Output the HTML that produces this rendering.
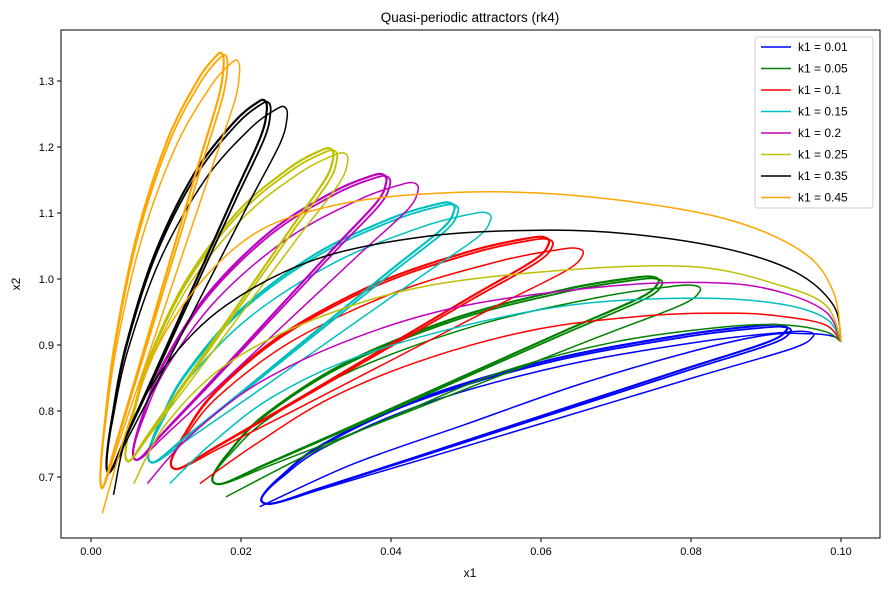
<!DOCTYPE html>
<html><head><meta charset="utf-8"><style>
body{margin:0;background:#fff;font-family:"Liberation Sans",sans-serif;}
svg text{font-family:"Liberation Sans",sans-serif;}
</style></head><body>
<svg id="chart" width="889" height="590" xmlns="http://www.w3.org/2000/svg">
<rect width="889" height="590" fill="#fff"/>
<text x="470" y="22" font-size="13.5" text-anchor="middle">Quasi-periodic attractors (rk4)</text>
<g id="plot"></g>
<rect x="61" y="30" width="819" height="508" fill="none" stroke="#000" stroke-width="1"/>
<g id="axes"></g>
<text x="470" y="577" font-size="12" text-anchor="middle">x1</text>
<text x="20" y="284" font-size="12" text-anchor="middle" transform="rotate(-90 20 284)">x2</text>
<g id="legend"></g>
</svg>
<script>
const labels=["k1 = 0.01","k1 = 0.05","k1 = 0.1","k1 = 0.15","k1 = 0.2","k1 = 0.25","k1 = 0.35","k1 = 0.45"];
const colors=["#0000ff","#008000","#ff0000","#00bfbf","#bf00bf","#bfbf00","#000000","#ffa500"];
const xTicks=[0,0.02,0.04,0.06,0.08,0.10];
const xTickLabels=["0.00","0.02","0.04","0.06","0.08","0.10"];
const yTicks=[0.7,0.8,0.9,1.0,1.1,1.2,1.3];
const yTickLabels=["0.7","0.8","0.9","1.0","1.1","1.2","1.3"];
const loopBottoms=[[0.0225,0.66],[0.016,0.69],[0.0105,0.713],[0.0075,0.723],[0.0055,0.727],[0.0045,0.725],[0.002,0.708],[0.0012,0.685]];
const loopTops1=[[0.092,0.93],[0.075,1.003],[0.0605,1.063],[0.048,1.115],[0.039,1.158],[0.032,1.197],[0.0232,1.27],[0.0175,1.341]];
const loopTops2=[[0.0955,0.92],[0.0805,0.99],[0.065,1.046],[0.0528,1.10],[0.0432,1.145],[0.0339,1.19],[0.0259,1.26],[0.0196,1.33]];
const loopShape=[[0.005,0.04],[0.04,0.15],[0.12,0.33],[0.3,0.58],[0.55,0.8],[0.8,0.94],[0.95,0.995],[1,1],[1.01,0.97],[0.97,0.9],[0.8,0.74],[0.55,0.5],[0.3,0.26],[0.12,0.09],[0.04,0.01],[0.01,0]];
const arcs=[
[[0.1,0.905],[0.099,0.913],[0.096,0.917],[0.09,0.915],[0.08,0.89],[0.065,0.84],[0.05,0.78],[0.035,0.72],[0.0225,0.655]],
[[0.1,0.905],[0.098,0.92],[0.093,0.93],[0.085,0.928],[0.07,0.905],[0.055,0.86],[0.042,0.8],[0.03,0.74],[0.018,0.67]],
[[0.1,0.905],[0.098,0.93],[0.093,0.942],[0.0865,0.948],[0.075,0.945],[0.06,0.925],[0.045,0.88],[0.032,0.82],[0.022,0.75],[0.0145,0.69]],
[[0.1,0.905],[0.098,0.94],[0.092,0.962],[0.081,0.971],[0.065,0.962],[0.05,0.93],[0.035,0.88],[0.024,0.82],[0.016,0.75],[0.0105,0.69]],
[[0.1,0.905],[0.098,0.95],[0.092,0.98],[0.084,0.994],[0.07,0.99],[0.05,0.96],[0.035,0.91],[0.022,0.84],[0.013,0.76],[0.0075,0.69]],
[[0.1,0.905],[0.098,0.96],[0.092,0.99],[0.081,1.018],[0.065,1.015],[0.045,0.99],[0.03,0.94],[0.018,0.87],[0.01,0.78],[0.0057,0.69]],
[[0.1,0.905],[0.099,0.96],[0.094,1.01],[0.085,1.045],[0.072,1.068],[0.06,1.074],[0.045,1.065],[0.03,1.03],[0.018,0.96],[0.01,0.87],[0.005,0.77],[0.003,0.673]],
[[0.1,0.905],[0.099,0.98],[0.095,1.04],[0.085,1.09],[0.07,1.12],[0.055,1.132],[0.04,1.125],[0.03,1.105],[0.022,1.07],[0.015,1.0],[0.009,0.9],[0.005,0.78],[0.0015,0.645]]
];
const NS="http://www.w3.org/2000/svg";
const X=v=>91+v*7500, Y=v=>345-(v-0.9)*660;
function path(pts,closed){
  const p=pts.map(q=>[X(q[0]),Y(q[1])]);const n=p.length;let d="M"+p[0][0].toFixed(1)+","+p[0][1].toFixed(1);
  const g=i=>closed?p[(i+n)%n]:p[Math.max(0,Math.min(n-1,i))];
  const m=closed?n:n-1;
  for(let i=0;i<m;i++){const p0=g(i-1),p1=g(i),p2=g(i+1),p3=g(i+2);
    d+=" C"+(p1[0]+(p2[0]-p0[0])/6).toFixed(1)+","+(p1[1]+(p2[1]-p0[1])/6).toFixed(1)+" "+(p2[0]-(p3[0]-p1[0])/6).toFixed(1)+","+(p2[1]-(p3[1]-p1[1])/6).toFixed(1)+" "+p2[0].toFixed(1)+","+p2[1].toFixed(1);}
  return d+(closed?"Z":"");
}
function loopPts(b,t){return loopShape.map(s=>[b[0]+s[0]*(t[0]-b[0]),b[1]+s[1]*(t[1]-b[1])]);}
const plot=document.getElementById('plot');
labels.forEach((lab,i)=>{
  const g=document.createElementNS(NS,'g');
  
  
  const t1=loopTops1[i], b=loopBottoms[i];
  const curves=[[arcs[i],false,1.5],[loopPts(b,t1),true,2.2],[loopPts(b,[t1[0]+0.0005,t1[1]-0.003]),true,1.8],[loopPts(b,loopTops2[i]),true,1.5]];
  curves.forEach((c,j)=>{const e=document.createElementNS(NS,'path');
    e.setAttribute('d',path(c[0],c[1]));e.setAttribute('fill','none');e.setAttribute('stroke',colors[i]);e.setAttribute('stroke-width',c[2]);
    
    
    g.appendChild(e);});
  plot.appendChild(g);
});
const axes=document.getElementById('axes');
xTicks.forEach((v,i)=>{const l=document.createElementNS(NS,'line');l.setAttribute('x1',X(v));l.setAttribute('x2',X(v));l.setAttribute('y1',538);l.setAttribute('y2',542);l.setAttribute('stroke','#000');
  
  
  axes.appendChild(l);
  const t=document.createElementNS(NS,'text');t.setAttribute('x',X(v));t.setAttribute('y',555);t.setAttribute('font-size','11');t.setAttribute('text-anchor','middle');t.textContent=xTickLabels[i];
  
  
  axes.appendChild(t);});
yTicks.forEach((v,i)=>{const l=document.createElementNS(NS,'line');l.setAttribute('x1',57);l.setAttribute('x2',61);l.setAttribute('y1',Y(v));l.setAttribute('y2',Y(v));l.setAttribute('stroke','#000');
  
  
  axes.appendChild(l);
  const t=document.createElementNS(NS,'text');t.setAttribute('x',54);t.setAttribute('y',Y(v)+4);t.setAttribute('font-size','11');t.setAttribute('text-anchor','end');t.textContent=yTickLabels[i];
  
  
  axes.appendChild(t);});
const leg=document.getElementById('legend');
const box=document.createElementNS(NS,'rect');box.setAttribute('x',755);box.setAttribute('y',37);box.setAttribute('width',118);box.setAttribute('height',171);box.setAttribute('rx',3);box.setAttribute('fill','#fff');box.setAttribute('fill-opacity','0.8');box.setAttribute('stroke','#ccc');


leg.appendChild(box);
labels.forEach((lab,i)=>{const y=47+i*21.5;
  const g=document.createElementNS(NS,'g');
  
  
  const l=document.createElementNS(NS,'line');l.setAttribute('x1',761);l.setAttribute('x2',791);l.setAttribute('y1',y);l.setAttribute('y2',y);l.setAttribute('stroke',colors[i]);l.setAttribute('stroke-width','1.5');
  const t=document.createElementNS(NS,'text');t.setAttribute('x',798);t.setAttribute('y',y+4);t.setAttribute('font-size','12');t.textContent=lab;
  g.appendChild(l);g.appendChild(t);leg.appendChild(g);});
</script>
</body></html>
